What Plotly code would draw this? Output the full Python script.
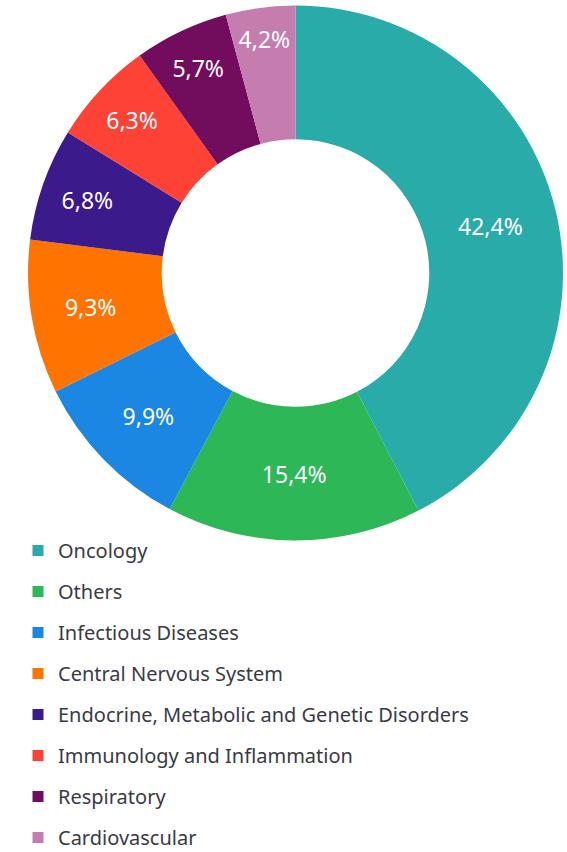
import plotly.graph_objects as go

# Share of pipeline by therapeutic area (%)
areas = [
    "Oncology",
    "Others",
    "Infectious Diseases",
    "Central Nervous System",
    "Endocrine, Metabolic and Genetic Disorders",
    "Immunology and Inflammation",
    "Respiratory",
    "Cardiovascular",
]
shares = [42.4, 15.4, 9.9, 9.3, 6.8, 6.3, 5.7, 4.2]
colors = ["#29ABA9", "#2DB757", "#1B87E3", "#FF7300",
          "#3B1A8C", "#FF4236", "#720D5D", "#C57DB0"]

W, H = 567, 852
FONT = "Noto Sans"

fig = go.Figure()

fig.add_trace(go.Pie(
    labels=areas,
    values=shares,
    marker=dict(colors=colors, line=dict(width=0)),
    hole=0.5,
    sort=False,
    direction="clockwise",
    rotation=0,
    texttemplate="%{value:.1f}%",
    textposition="inside",
    insidetextorientation="horizontal",
    textfont=dict(family=FONT, size=23, color="#FFFFFF"),
    showlegend=False,
    domain=dict(x=[28 / W, 563 / W], y=[1 - 541 / H, 1 - 5 / H]),
))

# Legend entries: one group per area so the gap between rows can be set
for name, col in zip(areas, colors):
    fig.add_trace(go.Scatter(
        x=[None], y=[None], mode="markers", name=name,
        legendgroup=name,
        marker=dict(symbol="square", size=11, color=col),
        hoverinfo="skip",
    ))

fig.update_layout(
    width=W, height=H,
    margin=dict(l=0, r=0, t=0, b=0, autoexpand=False),
    paper_bgcolor="white",
    plot_bgcolor="white",
    separators=", ",
    xaxis=dict(visible=False),
    yaxis=dict(visible=False),
    legend=dict(
        x=18 / W, y=1 - 531 / H, xanchor="left", yanchor="top",
        font=dict(family=FONT, size=20, color="#3A3A45"),
        tracegroupgap=12,
        itemclick=False,
        bgcolor="rgba(0,0,0,0)",
    ),
)

fig.write_html("out.html")
